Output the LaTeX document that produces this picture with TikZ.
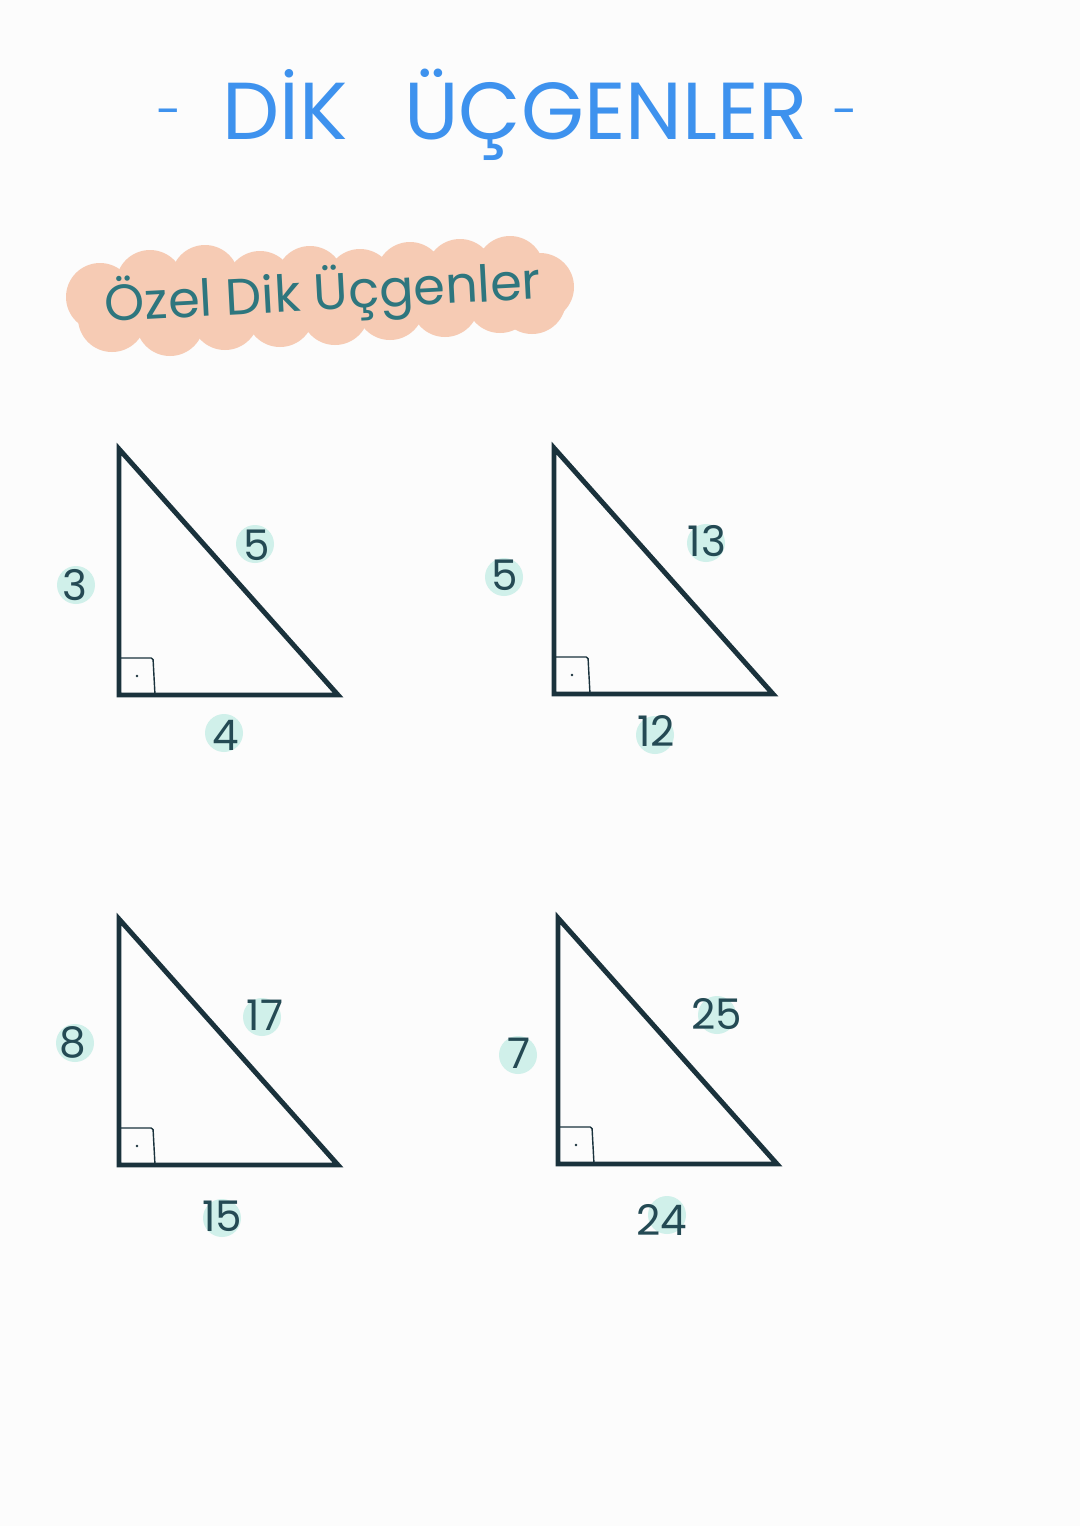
\documentclass[tikz,border=0pt]{standalone}
\usepackage{fontspec}
\setmainfont{Poppins}
\definecolor{paper}{RGB}{252,252,252}
\definecolor{titleblue}{RGB}{62,146,238}
\definecolor{inkdark}{RGB}{26,50,60}
\definecolor{numink}{RGB}{36,74,84}
\definecolor{mint}{RGB}{208,240,234}
\definecolor{peach}{RGB}{246,203,180}
\definecolor{tealtext}{RGB}{46,118,126}
\tikzset{
  side/.style={
    line width=2.8pt,
    draw=inkdark,
    line join=miter
  },
  corner/.style={line width=0.8pt, draw=inkdark, rounded corners=1pt},
  num/.style={inner sep=0pt, text=numink, font=\fontsize{24}{24}\selectfont},
  spot/.style={fill=mint}
}
% short title dash
\newcommand{\tire}{\raisebox{0.15em}{\fontsize{26}{26}\selectfont -}}
% right triangle: name, x and y of the right angle corner
\newcommand{\dikucgen}[3]{
  \coordinate (#1-top) at (#2,#3-246);
  \coordinate (#1-dik) at (#2,#3);
  \coordinate (#1-sag) at (#2+219,#3);
  \draw[corner] ([shift={(0,-37)}]#1-dik) -- ([shift={(34,-37)}]#1-dik) -- ([shift={(36,0)}]#1-dik);
  \fill[inkdark] ([shift={(18,-19)}]#1-dik) circle (0.8pt);
  \draw[side] (#1-top) -- (#1-dik) -- (#1-sag) -- cycle;
}

\begin{document}
\begin{tikzpicture}[x=0.02cm, y=-0.02cm]
  \fill[paper] (0,0) rectangle (1080,1526);
  \useasboundingbox (0,0) rectangle (1080,1526);

  % 1. Title
  \node[text=titleblue, font=\fontsize{46}{46}\selectfont] (baslik) at (507,115)
    {\tire\hspace{0.5em}DİK \, ÜÇGENLER\hspace{0.3em}\tire};

  % 2. Subtitle on a peach cloud
  \foreach \x/\y in {100/297,150/284,205/279,260/285,310/280,360/283,410/276,460/273,510/270,540/287}
    \fill[peach] (\x,\y) circle (34);
  \foreach \x/\y in {112/318,170/322,225/316,280/313,335/311,390/306,445/303,500/299,532/300}
    \fill[peach] (\x,\y) circle (34);
  \node[text=tealtext, font=\fontsize{29}{29}\selectfont, rotate=3] (altbaslik) at (323,295)
    {Özel Dik Üçgenler};

  % 3. The four triangles
  \dikucgen{t1}{119}{695}
  \dikucgen{t2}{554}{694}
  \dikucgen{t3}{119}{1165}
  \dikucgen{t4}{558}{1164}

  % 4. Side lengths (mint spots behind)
  \foreach \x/\y in {76/585,255/544,224/733,504/577,706/543,655/735,75/1043,262/1017,222/1218,518/1055,717/1015,667/1215}
    \fill[spot] (\x,\y) circle (19);

  \node[num] (n3)  at (75,585)   {3};
  \node[num] (n5)  at (257,545)  {5};
  \node[num] (n4)  at (226,735)  {4};
  \node[num] (m5)  at (505,575)  {5};
  \node[num] (m13) at (707,541)  {13};
  \node[num] (m12) at (656,731)  {12};
  \node[num] (k8)  at (73,1042)  {8};
  \node[num] (k17) at (265,1015) {17};
  \node[num] (k15) at (222,1216) {15};
  \node[num] (p7)  at (519,1053) {7};
  \node[num] (p25) at (717,1014) {25};
  \node[num] (p24) at (662,1220) {24};

\end{tikzpicture}
\end{document}
